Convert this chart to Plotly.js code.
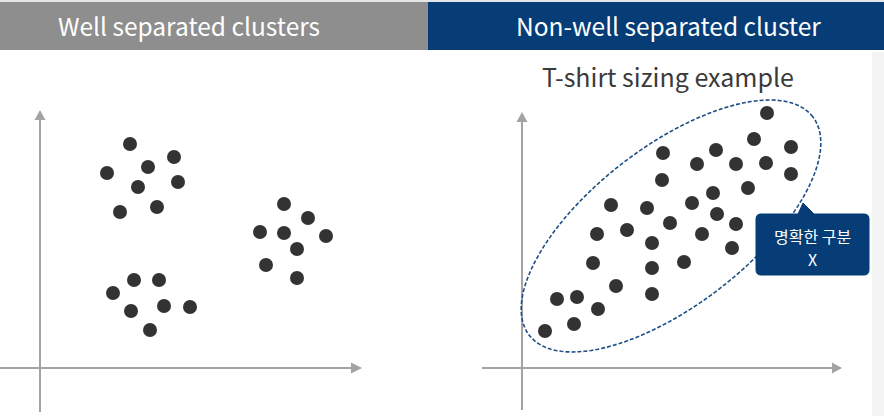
<!DOCTYPE html>
<html>
<head>
<meta charset="utf-8">
<script src="https://cdn.plot.ly/plotly-3.0.1.min.js"></script>
<style>html,body{margin:0;padding:0;background:#fff;}#chart{width:884px;height:416px;}</style>
</head>
<body>
<div id="chart"></div>
<script>
// ---- Data (left panel: well separated clusters) ----
const clusterA_x = [9.0, 13.4, 10.8, 6.7, 13.8, 9.8, 11.7, 8.0];
const clusterA_y = [22.4, 21.1, 20.1, 19.5, 18.6, 18.1, 16.1, 15.6];
const clusterB_x = [24.4, 26.8, 22.0, 24.4, 28.6, 25.7, 22.6, 25.7];
const clusterB_y = [16.4, 15.0, 13.6, 13.5, 13.2, 11.9, 10.3, 9.0];
const clusterC_x = [9.4, 11.9, 7.3, 9.1, 12.4, 15.0, 11.0];
const clusterC_y = [8.8, 8.8, 7.5, 5.7, 6.2, 6.1, 3.8];

// ---- Data (right panel: T-shirt sizing, non-well separated) ----
const tshirt_x = [24.5, 23.2, 26.9, 14.1, 19.4, 17.5, 21.4, 24.4, 26.9, 14.0, 22.6,
                  19.1, 17.0, 8.9, 12.5, 19.5, 14.8, 21.4, 10.5, 7.5, 18.0, 13.0,
                  21.0, 7.1, 16.2, 13.0, 9.4, 3.5, 5.5, 13.0, 7.6, 5.2, 2.3];
const tshirt_y = [25.5, 22.9, 22.1, 21.5, 21.8, 20.4, 20.4, 20.5, 19.4, 18.8, 18.0,
                  17.5, 16.5, 16.3, 16.0, 15.4, 14.5, 14.4, 13.8, 13.4, 13.4, 12.5,
                  12.0, 10.5, 10.6, 10.0, 8.2, 6.9, 7.1, 7.4, 5.9, 4.4, 3.7];

// ---- Text ----
const leftTitle = "Well separated clusters";
const rightTitle = "Non-well separated cluster";
const rightSubtitle = "T-shirt sizing example";
const calloutLine1 = "명확한 구분";
const calloutLine2 = "X";

const dotColor = '#333333';
const axisGray = '#a3a3a3';
const navy = '#063d76';

function dots(x, y, xa, ya) {
  return {x: x, y: y, xaxis: xa, yaxis: ya, type: 'scatter', mode: 'markers',
          cliponaxis: false, hoverinfo: 'skip', showlegend: false,
          marker: {size: 14, color: dotColor, line: {width: 0}}};
}

const traces = [
  dots(clusterA_x, clusterA_y, 'x', 'y'),
  dots(clusterB_x, clusterB_y, 'x', 'y'),
  dots(clusterC_x, clusterC_y, 'x', 'y'),
  dots(tshirt_x, tshirt_y, 'x2', 'y2')
];

// dashed ellipse outline (decoration) around the T-shirt points
function ellipsePath(cx, cy, a, b, deg) {
  const t = deg * Math.PI / 180;
  let p = '';
  for (let i = 0; i <= 120; i++) {
    const u = 2 * Math.PI * i / 120;
    const ex = cx + a * Math.cos(u) * Math.cos(t) - b * Math.sin(u) * Math.sin(t);
    const ey = cy + a * Math.cos(u) * Math.sin(t) + b * Math.sin(u) * Math.cos(t);
    p += (i === 0 ? 'M' : 'L') + ex.toFixed(3) + ',' + ey.toFixed(3);
  }
  return p + 'Z';
}

function arrowShapes(xa, ya, xStart, xBase, xTip, yStart, yBase, yTip) {
  const hw = 0.55;
  return [
    {type: 'line', xref: xa, yref: ya, x0: xStart, x1: xBase, y0: 0, y1: 0, line: {color: axisGray, width: 2}},
    {type: 'path', xref: xa, yref: ya, path: `M${xBase},${-hw}L${xTip},0L${xBase},${hw}Z`, fillcolor: axisGray, line: {width: 0}},
    {type: 'line', xref: xa, yref: ya, x0: 0, x1: 0, y0: yStart, y1: yBase, line: {color: axisGray, width: 2}},
    {type: 'path', xref: xa, yref: ya, path: `M${-hw},${yBase}L0,${yTip}L${hw},${yBase}Z`, fillcolor: axisGray, line: {width: 0}}
  ];
}

// callout box with pointer (right panel data coords)
const bx0 = 23.4, bx1 = 34.7, by0 = 9.3, by1 = 15.4, r = 0.5;
const calloutPath =
  `M${bx0 + r},${by1} L27.6,${by1} L28.1,16.5 L29.2,${by1} L${bx1 - r},${by1} Q${bx1},${by1} ${bx1},${by1 - r} ` +
  `L${bx1},${by0 + r} Q${bx1},${by0} ${bx1 - r},${by0} L${bx0 + r},${by0} Q${bx0},${by0} ${bx0},${by0 + r} ` +
  `L${bx0},${by1 - r} Q${bx0},${by1} ${bx0 + r},${by1} Z`;

const H = 416, W = 884;
const shapes = [
  {type: 'rect', xref: 'paper', yref: 'paper', x0: 0, x1: 1, y0: 1 - 2 / H, y1: 1, fillcolor: '#e4e6e8', line: {width: 0}, layer: 'below'},
  {type: 'rect', xref: 'paper', yref: 'paper', x0: 872 / W, x1: 1, y0: 0, y1: 1 - 52 / H, fillcolor: '#f4f4f4', line: {width: 0}, layer: 'below'},
  {type: 'rect', xref: 'paper', yref: 'paper', x0: 0, x1: 428 / W, y0: 1 - 50 / H, y1: 1 - 2 / H, fillcolor: '#8e8e8e', line: {width: 0}},
  {type: 'rect', xref: 'paper', yref: 'paper', x0: 428 / W, x1: 1, y0: 1 - 50 / H, y1: 1 - 2 / H, fillcolor: navy, line: {width: 0}},
  ...arrowShapes('x', 'y', -4, 31.1, 32.2, -4.4, 24.8, 25.8),
  ...arrowShapes('x2', 'y2', -4, 31.0, 32.0, -4.2, 24.6, 25.6),
  {type: 'path', xref: 'x2', yref: 'y2', path: ellipsePath(14.9, 14.2, 17.9, 7.93, 37.6),
   line: {color: '#1d4f86', width: 1.6, dash: '4px,2px'}, fillcolor: 'rgba(0,0,0,0)'},
  {type: 'path', xref: 'x2', yref: 'y2', path: calloutPath, fillcolor: navy, line: {color: navy, width: 1}}
];

const hdrFont = {family: '"Noto Sans CJK KR", "Noto Sans", sans-serif', size: 24.5, color: '#ffffff'};
const calloutFont = {family: '"Noto Sans CJK KR", sans-serif', size: 16, color: '#ffffff'};
const annotations = [
  {xref: 'paper', yref: 'paper', x: 189 / W, y: 1 - 25 / H, text: leftTitle, showarrow: false,
   xanchor: 'center', yanchor: 'middle', font: hdrFont},
  {xref: 'paper', yref: 'paper', x: 668.7 / W, y: 1 - 25 / H, text: rightTitle, showarrow: false,
   xanchor: 'center', yanchor: 'middle', font: hdrFont},
  {xref: 'paper', yref: 'paper', x: 667.8 / W, y: 1 - 76 / H, text: rightSubtitle, showarrow: false,
   xanchor: 'center', yanchor: 'middle',
   font: {family: '"Noto Sans CJK KR", "Noto Sans", sans-serif', size: 25, color: '#3a3a3a'}},
  {xref: 'x2', yref: 'y2', x: 29.0, y: 13.25, text: calloutLine1, showarrow: false,
   xanchor: 'center', yanchor: 'middle', font: calloutFont},
  {xref: 'x2', yref: 'y2', x: 29.0, y: 10.9, text: calloutLine2, showarrow: false,
   xanchor: 'center', yanchor: 'middle', font: calloutFont}
];

const hidden = {visible: false, showgrid: false, zeroline: false, fixedrange: true};
const layout = {
  width: W, height: H,
  margin: {l: 0, r: 0, t: 0, b: 0, pad: 0},
  paper_bgcolor: '#ffffff', plot_bgcolor: 'rgba(0,0,0,0)',
  showlegend: false,
  xaxis: Object.assign({domain: [0, 0.5], range: [-4, 40.2]}, hidden),
  yaxis: Object.assign({domain: [0, 1], range: [-4.8, 36.8]}, hidden),
  xaxis2: Object.assign({domain: [0.5, 1], range: [-8, 36.2], anchor: 'y2'}, hidden),
  yaxis2: Object.assign({domain: [0, 1], range: [-4.8, 36.8], anchor: 'x2'}, hidden),
  shapes: shapes,
  annotations: annotations
};

Plotly.newPlot('chart', traces, layout, {displayModeBar: false, staticPlot: true});
</script>
</body>
</html>
